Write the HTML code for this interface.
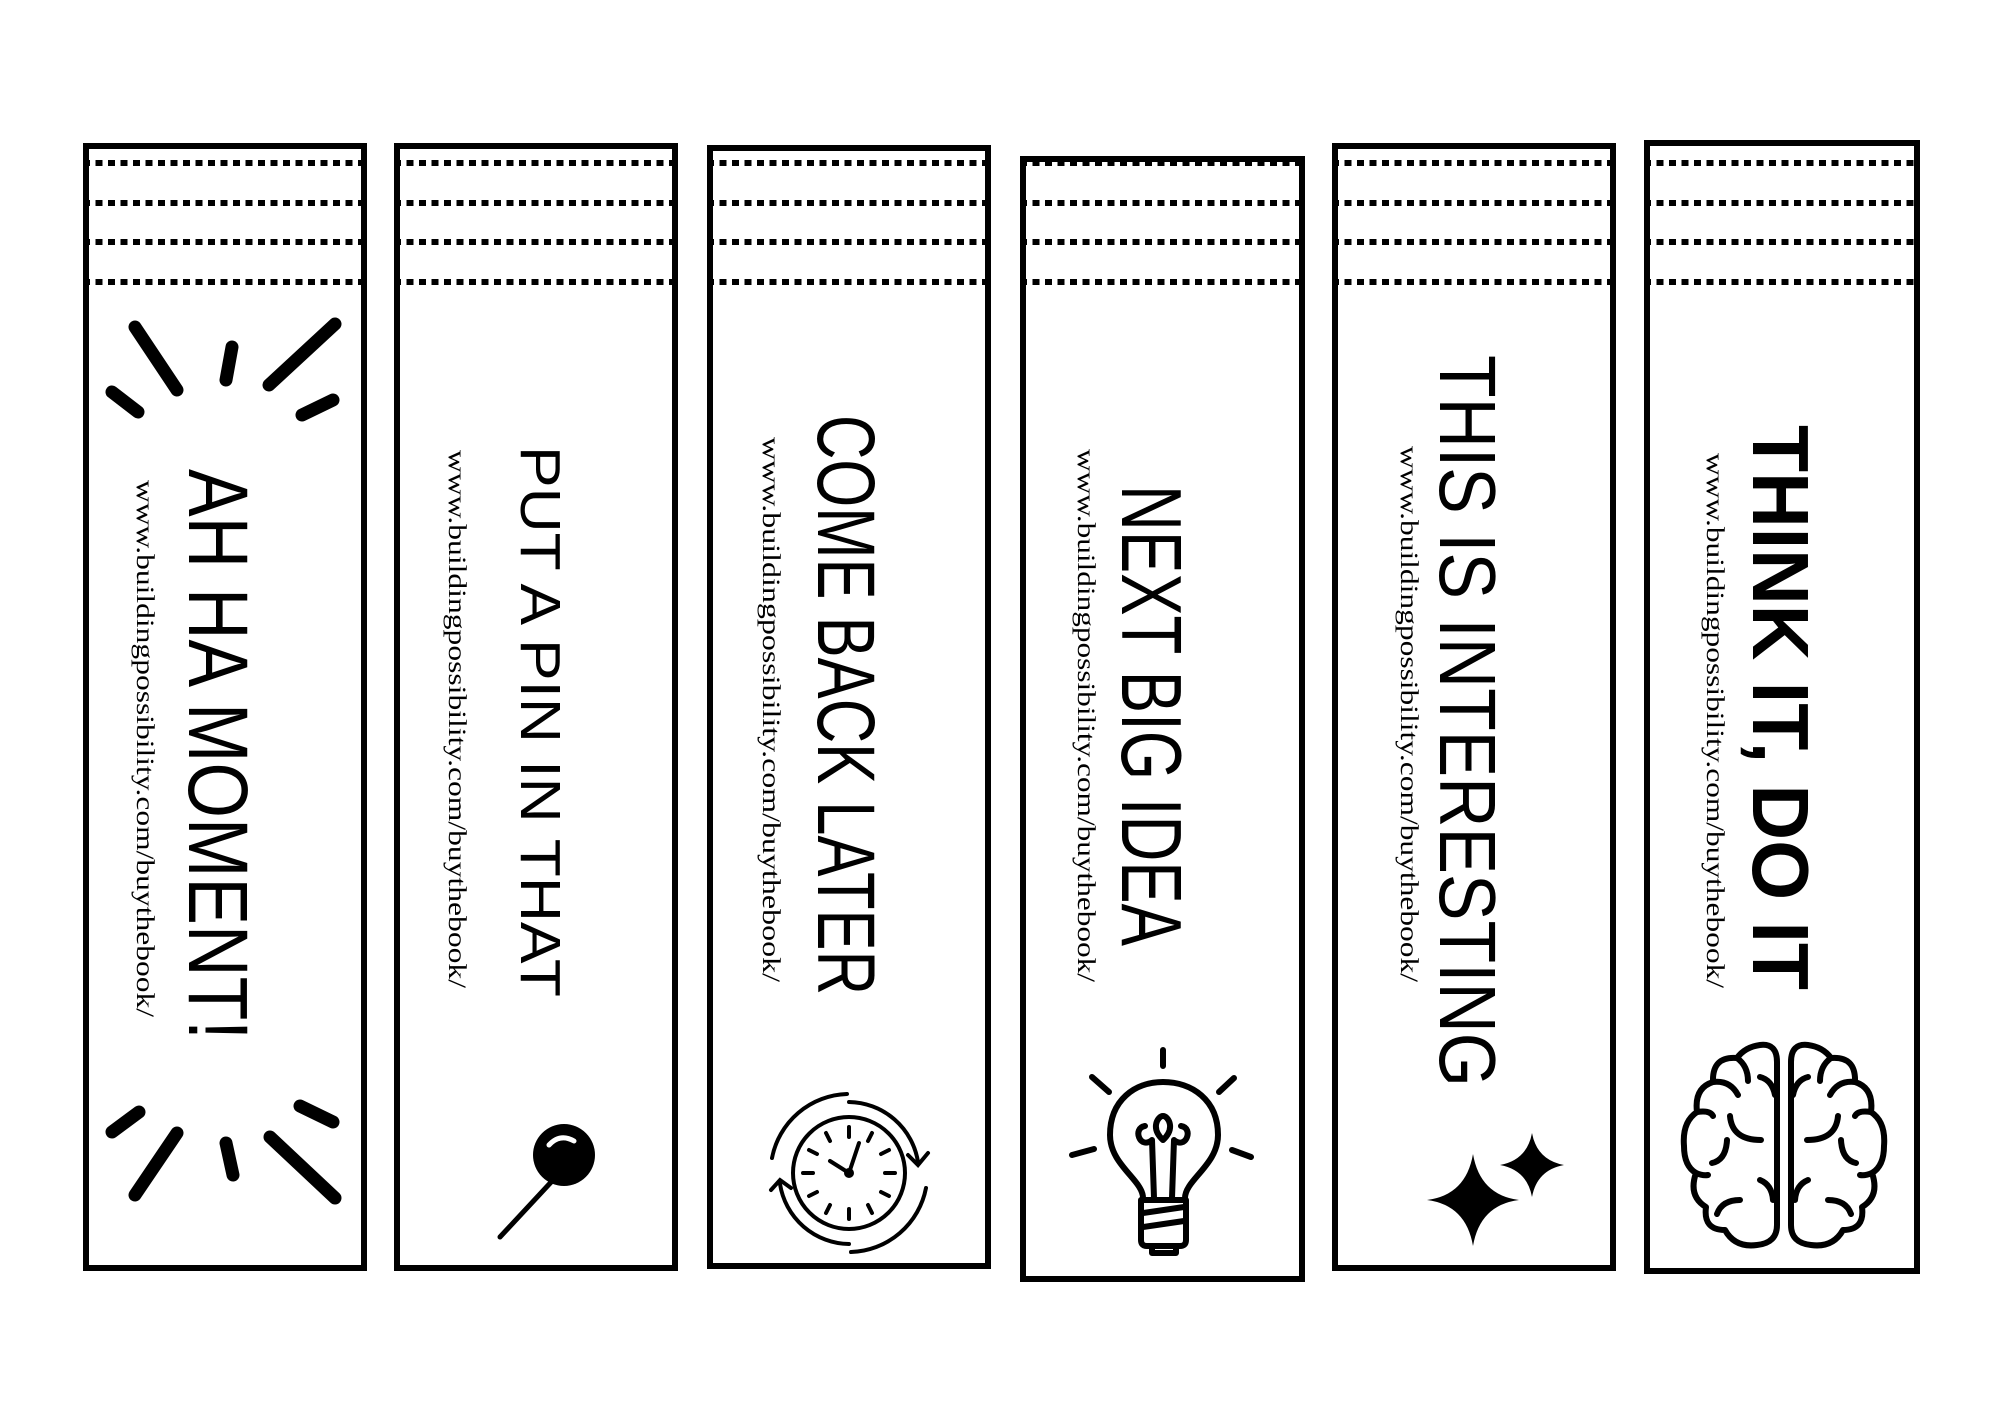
<!DOCTYPE html>
<html><head><meta charset="utf-8"><style>html,body{margin:0;padding:0;background:#fff}svg{display:block}</style></head>
<body>
<svg width="2000" height="1414" viewBox="0 0 2000 1414" xmlns="http://www.w3.org/2000/svg">
<rect width="2000" height="1414" fill="#fff"/>
<g fill="none" stroke="#000" stroke-width="6">
<rect x="86" y="146" width="278" height="1122"/>
<rect x="397" y="146" width="278" height="1122"/>
<rect x="710" y="148" width="278" height="1118"/>
<rect x="1023" y="159" width="279" height="1120"/>
<rect x="1335" y="146" width="278" height="1122"/>
<rect x="1647" y="143" width="270" height="1128"/>
</g>
<g stroke="#000" stroke-width="6" stroke-dasharray="7 5.5">
<path d="M83 163H364M83 203H364M83 242H364M83 282H364"/>
<path d="M394 163H676M394 203H676M394 242H676M394 282H676"/>
<path d="M707 163H988M707 203H988M707 242H988M707 282H988"/>
<path d="M1020 163H1302M1020 203H1302M1020 242H1302M1020 282H1302"/>
<path d="M1332 163H1613M1332 203H1613M1332 242H1613M1332 282H1613"/>
<path d="M1644 163H1917M1644 203H1917M1644 242H1917M1644 282H1917"/>
</g>
<g fill="#000">
<text transform="translate(189,469) rotate(90)" font-family="Liberation Sans, sans-serif" font-size="84" textLength="571" lengthAdjust="spacingAndGlyphs">AH HA MOMENT!</text>
<text transform="translate(137,480) rotate(90)" font-family="Liberation Serif, serif" font-size="25" textLength="537" lengthAdjust="spacingAndGlyphs">www.buildingpossibility.com/buythebook/</text>
<text transform="translate(521,446) rotate(90)" font-family="Liberation Sans, sans-serif" font-size="57" textLength="551" lengthAdjust="spacingAndGlyphs">PUT A PIN IN THAT</text>
<text transform="translate(449,450) rotate(90)" font-family="Liberation Serif, serif" font-size="25" textLength="538" lengthAdjust="spacingAndGlyphs">www.buildingpossibility.com/buythebook/</text>
<text transform="translate(818,415) rotate(90)" font-family="Liberation Sans, sans-serif" font-size="82" textLength="580" lengthAdjust="spacingAndGlyphs">COME BACK LATER</text>
<text transform="translate(763,437) rotate(90)" font-family="Liberation Serif, serif" font-size="25" textLength="545" lengthAdjust="spacingAndGlyphs">www.buildingpossibility.com/buythebook/</text>
<text transform="translate(1122,485) rotate(90)" font-family="Liberation Sans, sans-serif" font-size="85" textLength="461" lengthAdjust="spacingAndGlyphs">NEXT BIG IDEA</text>
<text transform="translate(1078,449) rotate(90)" font-family="Liberation Serif, serif" font-size="25" textLength="533" lengthAdjust="spacingAndGlyphs">www.buildingpossibility.com/buythebook/</text>
<text transform="translate(1440,355) rotate(90)" font-family="Liberation Sans, sans-serif" font-size="80" textLength="732" lengthAdjust="spacingAndGlyphs">THIS IS INTERESTING</text>
<text transform="translate(1401,446) rotate(90)" font-family="Liberation Serif, serif" font-size="25" textLength="536" lengthAdjust="spacingAndGlyphs">www.buildingpossibility.com/buythebook/</text>
<text transform="translate(1753,425) rotate(90)" font-family="Liberation Sans, sans-serif" font-weight="bold" font-size="80" textLength="565" lengthAdjust="spacingAndGlyphs">THINK IT, DO IT</text>
<text transform="translate(1707,453) rotate(90)" font-family="Liberation Serif, serif" font-size="25" textLength="535" lengthAdjust="spacingAndGlyphs">www.buildingpossibility.com/buythebook/</text>
</g>
<g stroke="#000" stroke-width="13" stroke-linecap="round" fill="none">
<path d="M135 327L177 390M232 347L226 380M335 324L269 385M112 392L138 412M333 400L302 415"/>
<path d="M139 1112L112 1132M177 1133L135 1195M226 1143L233 1175M270 1137L335 1198M300 1106L333 1122"/>
</g>
<line x1="567" y1="1165" x2="500" y2="1237" stroke="#000" stroke-width="5" stroke-linecap="round"/>
<ellipse cx="564" cy="1155" rx="31" ry="31" fill="#000"/>
<path d="M549 1145Q560 1133 574 1141" stroke="#fff" stroke-width="5" fill="none" stroke-linecap="round"/>
<g fill="none" stroke="#000" stroke-width="4" stroke-linecap="round">
<circle cx="849" cy="1173" r="56"/>
<path d="M772 1158A79 79 0 0 1 847 1094"/>
<path d="M926 1188A79 79 0 0 1 851 1252"/>
<path d="M849 1102A71 71 0 0 1 918 1162"/>
<path d="M849 1244A71 71 0 0 1 780 1184"/>
<path d="M908 1155L918 1165L928 1153"/>
<path d="M771 1190L780 1180L791 1188"/>
<path d="M849 1173L830 1161M849 1173L859 1143"/>
<path d="M849 1127V1137M849 1209V1219M803 1173H813M885 1173H895M872 1133L868 1141M826 1133L830 1141M826 1213L830 1205M872 1213L868 1205M809 1150L817 1154M889 1150L881 1154M809 1196L817 1192M889 1196L881 1192"/>
</g>
<circle cx="849" cy="1173" r="5" fill="#000"/>
<g fill="none" stroke="#000" stroke-width="6" stroke-linecap="round" stroke-linejoin="round">
<path d="M1163 1050V1066M1092 1077L1109 1092M1234 1078L1219 1092M1072 1155L1094 1149M1232 1150L1251 1157"/>
<path d="M1143 1198C1143 1180 1110 1165 1110 1135C1110 1100 1135 1082 1163 1082C1192 1082 1218 1100 1218 1135C1218 1165 1185 1180 1185 1198"/>
<path d="M1141 1200H1186V1240Q1186 1246 1180 1246H1147Q1141 1246 1141 1240Z"/>
<path d="M1143 1213L1184 1207M1143 1227L1184 1221M1152 1246V1253H1176V1246"/>
<path d="M1154 1198L1152 1140M1172 1198L1174 1140M1163 1140C1150 1128 1158 1116 1163 1116C1168 1116 1176 1128 1163 1140M1152 1140C1140 1150 1132 1128 1145 1126M1174 1140C1186 1150 1194 1128 1181 1126"/>
</g>
<path d="M1473 1154Q1480 1195 1519 1200Q1480 1205 1473 1246Q1466 1205 1427 1200Q1466 1195 1473 1154Z" fill="#000"/>
<path d="M1532 1133Q1537 1160 1564 1165Q1537 1170 1532 1197Q1527 1170 1500 1165Q1527 1160 1532 1133Z" fill="#000"/>
<g fill="none" stroke="#000" stroke-width="6" stroke-linecap="round" stroke-linejoin="round">
<g id="hb">
<path d="M1777 1062Q1777 1043 1760 1045Q1745 1047 1737 1058Q1712 1056 1713 1082Q1694 1088 1697 1112Q1682 1122 1684 1146Q1684 1166 1696 1173Q1688 1196 1706 1207Q1703 1230 1725 1230Q1735 1248 1757 1245Q1777 1243 1777 1225Z"/>
<path d="M1737 1058Q1748 1066 1748 1081M1713 1082Q1730 1080 1738 1095M1760 1077Q1772 1080 1775 1095M1697 1112Q1710 1110 1713 1116M1730 1116Q1732 1140 1761 1140M1727 1140Q1726 1160 1712 1163M1696 1173Q1703 1176 1708 1175M1760 1180Q1772 1185 1773 1200M1717 1214Q1722 1200 1740 1200"/>
</g>
<use href="#hb" transform="translate(3568,0) scale(-1,1)"/>
</g>
</svg>
</body></html>
